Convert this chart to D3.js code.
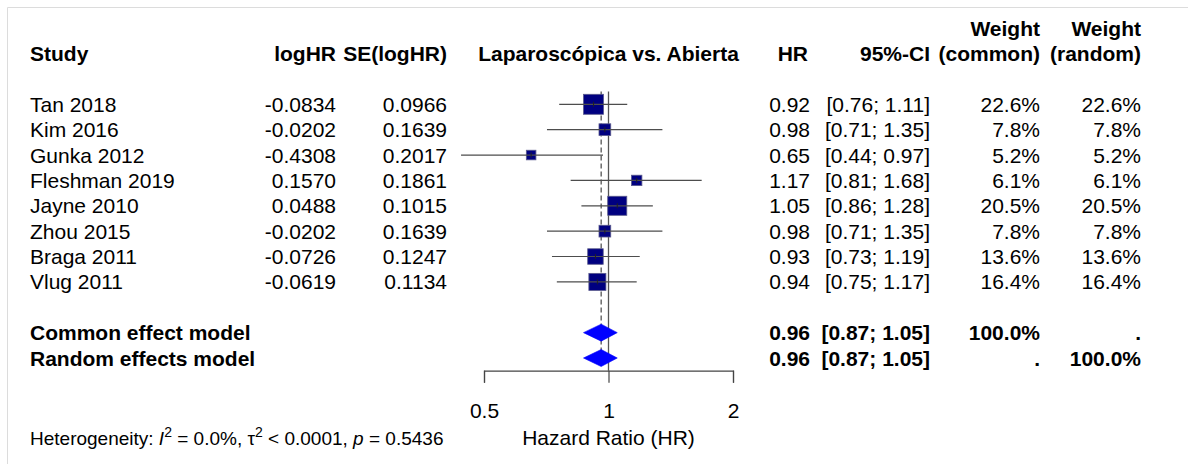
<!DOCTYPE html>
<html>
<head>
<meta charset="utf-8">
<script src="https://cdn.jsdelivr.net/npm/d3@7"></script>
<style>
  body { margin: 0; background: #fff; }
  svg text { font-family: "Liberation Sans", Arial, sans-serif; fill: #000; }
</style>
</head>
<body>
<script>
// study table
const studies  = ["Tan 2018","Kim 2016","Gunka 2012","Fleshman 2019","Jayne 2010","Zhou 2015","Braga 2011","Vlug 2011"];
const logHR    = [-0.0834,-0.0202,-0.4308,0.1570,0.0488,-0.0202,-0.0726,-0.0619];
const seLogHR  = [0.0966,0.1639,0.2017,0.1861,0.1015,0.1639,0.1247,0.1134];
const hr       = [0.92,0.98,0.65,1.17,1.05,0.98,0.93,0.94];
const ciLow    = [0.76,0.71,0.44,0.81,0.86,0.71,0.73,0.75];
const ciHigh   = [1.11,1.35,0.97,1.68,1.28,1.35,1.19,1.17];
const wCommon  = [22.6,7.8,5.2,6.1,20.5,7.8,13.6,16.4];
const wRandom  = [22.6,7.8,5.2,6.1,20.5,7.8,13.6,16.4];

// pooled models
const models     = ["Common effect model","Random effects model"];
const modelHR    = [0.96,0.96];
const modelLow   = [0.87,0.87];
const modelHigh  = [1.05,1.05];
const modelWC    = ["100.0%","."];
const modelWR    = [".","100.0%"];

const ticks = [0.5,1,2];

let screen_f = {width:1188, height:464};
let fs = 21;

let svg = d3.select("body").append("svg")
    .attr("width",screen_f.width)
    .attr("height",screen_f.height);

// frame (top/left edges only visible)
svg.append("line").attr("x1",7.5).attr("x2",screen_f.width).attr("y1",7.5).attr("y2",7.5)
    .attr("stroke","#dcdcdc");
svg.append("line").attr("x1",7.5).attr("x2",7.5).attr("y1",7.5).attr("y2",screen_f.height)
    .attr("stroke","#dcdcdc");

let xScale = d3.scaleLog().domain([0.5,2]).range([484,733]);
let yRow = d3.scaleLinear().domain([0,1]).range([104.3,129.67]);
let sqSize = d3.scaleSqrt().domain([0,22.6]).range([0,20]);

let col = {study:30, logHR:336, se:447, hr:810, ci:930, wc:1040, wr:1141};

let txt = function(x,y,s,anchor,bold,size){
    return svg.append("text")
        .attr("x",x).attr("y",y)
        .attr("dy","0.36em")
        .attr("text-anchor",anchor)
        .style("font-size",(size||fs)+"px")
        .style("font-weight",bold ? "bold" : "normal")
        .text(s);
};

//headers
let h1 = yRow(-3), h2 = yRow(-2);
txt(col.study,h2,"Study","start",true);
txt(col.logHR,h2,"logHR","end",true);
txt(col.se,h2,"SE(logHR)","end",true);
txt(xScale(1),h2,"Laparoscópica vs. Abierta","middle",true);
txt(col.hr-2,h2,"HR","end",true);
txt(col.ci,h2,"95%-CI","end",true);
txt(col.wc,h1,"Weight","end",true);
txt(col.wc,h2,"(common)","end",true);
txt(col.wr,h1,"Weight","end",true);
txt(col.wr,h2,"(random)","end",true);

let f2 = function(v){ return v.toFixed(2); };
let f4 = function(v){ return v.toFixed(4); };

//study rows text
studies.forEach(function(s,i){
    let y = yRow(i);
    txt(col.study,y,s,"start",false);
    txt(col.logHR,y,f4(logHR[i]),"end",false);
    txt(col.se,y,f4(seLogHR[i]),"end",false);
    txt(col.hr,y,f2(hr[i]),"end",false);
    txt(col.ci,y,"["+f2(ciLow[i])+"; "+f2(ciHigh[i])+"]","end",false);
    txt(col.wc,y,wCommon[i].toFixed(1)+"%","end",false);
    txt(col.wr,y,wRandom[i].toFixed(1)+"%","end",false);
});

//model rows text
models.forEach(function(m,i){
    let y = yRow(9+i);
    txt(col.study,y,m,"start",true);
    txt(col.hr,y,f2(modelHR[i]),"end",true);
    txt(col.ci,y,"["+f2(modelLow[i])+"; "+f2(modelHigh[i])+"]","end",true);
    txt(col.wc,y,modelWC[i],"end",true);
    txt(col.wr,y,modelWR[i],"end",true);
});

let plot = svg.append("g");
let topY = yRow(-0.5), axisY = yRow(10.5);

//reference line at 1
plot.append("line")
    .attr("x1",xScale(1)).attr("x2",xScale(1))
    .attr("y1",topY).attr("y2",axisY)
    .attr("stroke","#555").attr("stroke-width",1.3);
//pooled estimate dashed line
plot.append("line")
    .attr("x1",xScale(modelHR[0])).attr("x2",xScale(modelHR[0]))
    .attr("y1",topY).attr("y2",yRow(10)+8)
    .attr("stroke","#555").attr("stroke-width",1.3)
    .attr("stroke-dasharray","5,3");

//squares
plot.selectAll("rect.sq")
    .data(hr)
    .enter()
    .append("rect")
    .attr("class","sq")
    .attr("x",function(d,i){ return xScale(d)-sqSize(wCommon[i])/2; })
    .attr("y",function(d,i){ return yRow(i)-sqSize(wCommon[i])/2; })
    .attr("width",function(d,i){ return sqSize(wCommon[i]); })
    .attr("height",function(d,i){ return sqSize(wCommon[i]); })
    .attr("fill","#000080")
    .attr("stroke","#5a5a8c").attr("stroke-width",0.8);

//CI lines
plot.selectAll("line.ci")
    .data(hr)
    .enter()
    .append("line")
    .attr("class","ci")
    .attr("x1",function(d,i){ return xScale(ciLow[i]); })
    .attr("x2",function(d,i){ return xScale(ciHigh[i]); })
    .attr("y1",function(d,i){ return yRow(i); })
    .attr("y2",function(d,i){ return yRow(i); })
    .attr("stroke","#4d4d4d").attr("stroke-width",1.2);
plot.selectAll("line.pt")
    .data(hr)
    .enter()
    .append("line")
    .attr("class","pt")
    .attr("x1",function(d){ return xScale(d); })
    .attr("x2",function(d){ return xScale(d); })
    .attr("y1",function(d,i){ return yRow(i)-2.5; })
    .attr("y2",function(d,i){ return yRow(i)+2.5; })
    .attr("stroke","#222").attr("stroke-width",1);

//diamonds
plot.selectAll("path.dm")
    .data(modelHR)
    .enter()
    .append("path")
    .attr("class","dm")
    .attr("d",function(d,i){
        let y = yRow(9+i), h = 8.5;
        return "M"+xScale(modelLow[i])+","+y+
               "L"+xScale(d)+","+(y-h)+
               "L"+xScale(modelHigh[i])+","+y+
               "L"+xScale(d)+","+(y+h)+"Z"; })
    .attr("fill","#0000ff")
    .attr("stroke","#0000ff").attr("stroke-width",0.6);

//axis
let axis = plot.append("g")
    .attr("transform","translate(0,"+axisY+")")
    .call(d3.axisBottom(xScale).tickValues(ticks).tickSize(12).tickPadding(20)
        .tickFormat(function(d){ return String(d); }));
axis.select(".domain").attr("stroke","#444").attr("stroke-width",1.2);
axis.selectAll(".tick line").attr("stroke","#444").attr("stroke-width",1.2);
axis.selectAll(".tick text")
    .style("font-family","\"Liberation Sans\", Arial, sans-serif")
    .style("font-size",fs+"px").attr("fill","#000");

txt(xScale(1),437,"Hazard Ratio (HR)","middle",false);

//heterogeneity
let het = svg.append("text")
    .attr("x",30).attr("y",438).attr("dy","0.36em")
    .style("font-size","19px");
het.append("tspan").text("Heterogeneity: ");
het.append("tspan").style("font-style","italic").text("I");
het.append("tspan").attr("dy",-8).style("font-size","14px").text("2");
het.append("tspan").attr("dy",8).text(" = 0.0%, ");
het.append("tspan").text("\u03c4");
het.append("tspan").attr("dy",-8).style("font-size","14px").text("2");
het.append("tspan").attr("dy",8).text(" < 0.0001, ");
het.append("tspan").style("font-style","italic").text("p");
het.append("tspan").text(" = 0.5436");
</script>
</body>
</html>
